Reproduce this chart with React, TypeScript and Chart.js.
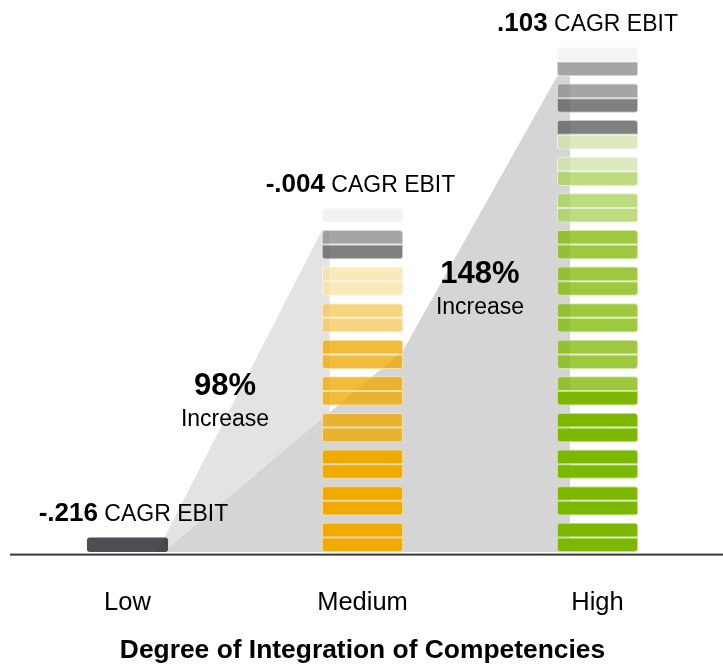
import React, { useEffect, useRef } from 'react';
import { Chart, registerables } from 'chart.js';

Chart.register(...registerables);

// ---------- data ----------
const categories = ['Low', 'Medium', 'High'];
const cagrValues = ['-.216', '-.004', '.103'];
const cagrSuffix = 'CAGR EBIT';
const increaseValues = ['98%', '148%'];
const increaseWord = 'Increase';
const axisTitle = 'Degree of Integration of Competencies';

// colour of every half-block, bottom to top (two halves per block)
const lowSegments = ['#4e4f54'];
const mediumSegments = [
  '#f0aa00', '#f0aa00',
  '#f0aa00', '#f0aa00',
  '#f0aa00', '#f0aa00',
  '#f2bc3a', '#f2bc3a',
  '#f2bc3a', '#f2bc3a',
  '#f2bc3a', '#f2bc3a',
  '#f7d47f', '#f7d47f',
  '#fbe9b9', '#fbe9b9',
  '#808080', '#a5a5a5',
  '#f2f2f2',
];
const highSegments = [
  '#7cb800', '#7cb800',
  '#7cb800', '#7cb800',
  '#7cb800', '#7cb800',
  '#7cb800', '#7cb800',
  '#7cb800', '#9ec93e',
  '#9ec93e', '#9ec93e',
  '#9ec93e', '#9ec93e',
  '#9ec93e', '#9ec93e',
  '#9ec93e', '#9ec93e',
  '#bedb80', '#bedb80',
  '#bedb80', '#dce9bf',
  '#dce9bf', '#808080',
  '#808080', '#a5a5a5',
  '#a5a5a5', '#f4f4f4',
];

// ---------- layout / style ----------
const FONT = '"Liberation Sans", Arial, Helvetica, sans-serif';
const HALF = 0.4; // one half-block, in block units (block pitch = 1)
const columns = [lowSegments, mediumSegments, highSegments];
const labelShift = [6, -2, -10];

const segStart = (i: number) => Math.floor(i / 2) + (i % 2) * HALF;
const segEnd = (i: number) => segStart(i) + HALF;

// shaded wedges, in [category position, value] space
const lightWedge = [[0.125, 0], [0.828, 8.8], [0.86, 8.8], [0.86, 0]];
const darkWedge = [[0.172, 0.1], [1.172, 5.5], [1.828, 13.0], [1.883, 13.0], [1.883, 0], [0.172, 0]];
const increaseAnchors = [[0.415, 4.29], [1.5, 7.35]];

function hexRgb(h: string) {
  const n = parseInt(h.slice(1), 16);
  return [(n >> 16) & 255, (n >> 8) & 255, n & 255];
}
function glaze(h: string) {
  const c = hexRgb(h);
  const a = Math.max(0.78, 1 - Math.min(...c) / 255);
  const b = c.map((v) => Math.round(Math.min(255, Math.max(0, (v - (1 - a) * 255) / a))));
  return `rgba(${b.join(',')},${a.toFixed(3)})`;
}
function tint(h: string) {
  const c = hexRgb(h);
  return `rgb(${c.map((v) => Math.round(v + (255 - v) * 0.55)).join(',')})`;
}

const maxLen = Math.max(...columns.map((c) => c.length));

const datasets = Array.from({ length: maxLen }, (_, i) => ({
  label: `part ${i + 1}`,
  data: columns.map((col) => (i < col.length ? [segStart(i), segEnd(i)] : null)),
  backgroundColor: columns.map((col) => (col[i] ? glaze(col[i]) : 'transparent')),
  borderColor: columns.map((col) => (col[i] ? tint(col[i]) : 'transparent')),
  borderWidth: columns.map((_, c) => (c === 0 ? 0 : 1)),
  borderSkipped: false,
  borderRadius: (ctx: any) => {
    const col = columns[ctx.dataIndex] || [];
    const r = 3;
    const lone = i % 2 === 0 && i === col.length - 1;
    if (lone) return { topLeft: r, topRight: r, bottomLeft: r, bottomRight: r };
    return i % 2 === 0
      ? { topLeft: 0, topRight: 0, bottomLeft: r, bottomRight: r }
      : { topLeft: r, topRight: r, bottomLeft: 0, bottomRight: 0 };
  },
  grouped: false,
  barPercentage: 0.345,
  categoryPercentage: 1,
}));

const decorPlugin = {
  id: 'decor',
  beforeDatasetsDraw(chart: any) {
    const { ctx, scales } = chart;
    const x = scales.x;
    const y = scales.y;
    const path = (pts: number[][]) => {
      ctx.beginPath();
      pts.forEach(([cx, cy], k) => {
        const px = x.getPixelForValue(cx);
        const py = y.getPixelForValue(cy);
        if (k) ctx.lineTo(px, py);
        else ctx.moveTo(px, py);
      });
      ctx.closePath();
    };
    ctx.save();
    path(lightWedge);
    ctx.fillStyle = '#e3e3e3';
    ctx.fill();
    path(darkWedge);
    ctx.fillStyle = '#d5d5d5';
    ctx.fill();
    ctx.restore();
  },
  afterDraw(chart: any) {
    const { ctx, scales, chartArea } = chart;
    const x = scales.x;
    const y = scales.y;
    ctx.save();
    // baseline
    ctx.fillStyle = '#383838';
    ctx.fillRect(chartArea.left, chartArea.bottom - 1, chart.width - chartArea.left, 2);

    // CAGR labels above each column
    ctx.fillStyle = '#000';
    ctx.textBaseline = 'alphabetic';
    columns.forEach((col, c) => {
      const top = segEnd(col.length - 1);
      const cx = x.getPixelForValue(c) + labelShift[c];
      const by = y.getPixelForValue(top) - 16;
      const boldF = `bold 26px ${FONT}`;
      const regF = `23px ${FONT}`;
      ctx.font = boldF;
      const wb = ctx.measureText(cagrValues[c]).width;
      ctx.font = regF;
      const ws = ctx.measureText(' ').width;
      const wr = ctx.measureText(cagrSuffix).width;
      const start = cx - (wb + ws + wr) / 2;
      ctx.textAlign = 'left';
      ctx.font = boldF;
      ctx.fillText(cagrValues[c], start, by);
      ctx.font = regF;
      ctx.fillText(cagrSuffix, start + wb + ws, by);
    });

    // increase annotations
    ctx.textAlign = 'center';
    increaseValues.forEach((v, k) => {
      const [ax, ay] = increaseAnchors[k];
      const px = x.getPixelForValue(ax);
      const py = y.getPixelForValue(ay);
      ctx.font = `bold 31px ${FONT}`;
      ctx.fillText(v, px, py);
      ctx.font = `23px ${FONT}`;
      ctx.fillText(increaseWord, px, py + 31);
    });
    ctx.restore();
  },
};

export default function App() {
  const ref = useRef<HTMLCanvasElement>(null);
  useEffect(() => {
    if (!ref.current) return;
    const chart = new Chart(ref.current, {
      type: 'bar',
      data: { labels: categories, datasets: datasets as any },
      options: {
        responsive: false,
        animation: false,
        layout: { padding: { left: 10, right: 8, top: 28.6, bottom: 0 } },
        plugins: {
          legend: { display: false },
          tooltip: { enabled: false },
        },
        scales: {
          x: {
            grid: { display: false, drawTicks: false },
            border: { display: false },
            ticks: { color: '#000', font: { size: 25.5, family: FONT }, padding: 33.5 },
            title: {
              display: true,
              text: axisTitle,
              color: '#000',
              font: { size: 26.4, weight: 'bold', family: FONT, lineHeight: 1.0 },
              padding: { top: 15, bottom: 0 },
            },
            afterFit: (scale: any) => {
              scale.height = 109.4;
            },
          },
          y: { display: false, min: -0.07, max: 14.3 },
        },
      } as any,
      plugins: [decorPlugin],
    });
    return () => chart.destroy();
  }, []);
  return (
    <div style={{ position: 'absolute', left: 0, top: 0, width: 723, height: 664, background: '#fff' }}>
      <canvas ref={ref} width={723} height={664} style={{ display: 'block' }} />
    </div>
  );
}
